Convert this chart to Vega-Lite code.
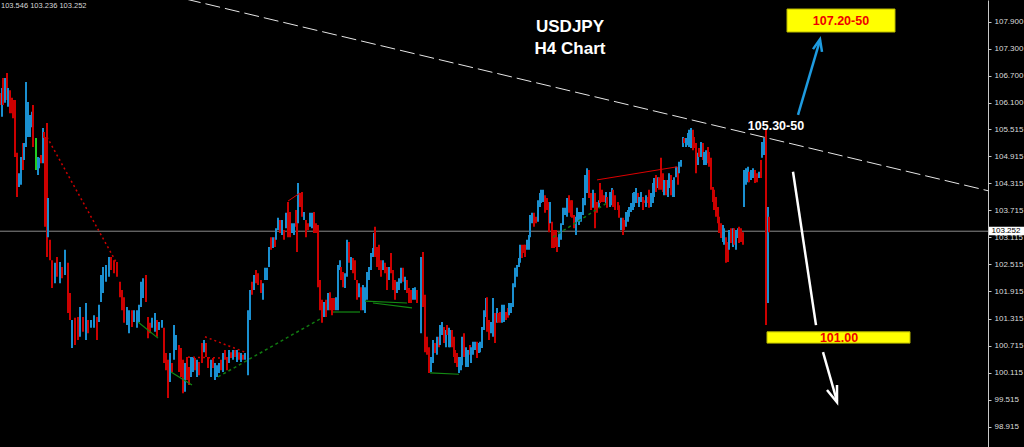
{
  "$schema": "https://vega.github.io/schema/vega-lite/v6.json",
  "width": 988,
  "height": 447,
  "autosize": {"type": "none"},
  "padding": {"left": 0, "right": 36, "top": 0, "bottom": 0},
  "background": "#000000",
  "config": {"view": {"stroke": null, "fill": "#000000"}, "axis": {"labelOverlap": false, "labelBound": false, "labelFlush": false}, "axisY": {"labelOverlap": false}},
  "datasets": {
    "bars": [
      {"i":0,"h":106.32,"l":106.05,"c":"d"},{"i":2,"h":106.43,"l":105.79,"c":"u"},{"i":3,"h":106.65,"l":106.05,"c":"d"},{"i":5,"h":106.65,"l":106.10,"c":"u"},{"i":7,"h":106.76,"l":106.16,"c":"d"},{"i":8,"h":106.43,"l":106.01,"c":"u"},{"i":10,"h":106.38,"l":105.87,"c":"d"},{"i":12,"h":106.21,"l":105.87,"c":"d"},{"i":13,"h":106.16,"l":105.76,"c":"d"},{"i":15,"h":106.16,"l":104.90,"c":"d"},{"i":17,"h":104.99,"l":104.01,"c":"d"},{"i":19,"h":104.54,"l":104.23,"c":"u"},{"i":21,"h":104.90,"l":104.28,"c":"u"},{"i":23,"h":105.21,"l":104.61,"c":"d"},{"i":24,"h":105.21,"l":104.83,"c":"u"},{"i":26,"h":106.56,"l":105.12,"c":"u"},{"i":28,"h":106.12,"l":105.34,"c":"u"},{"i":30,"h":105.83,"l":105.34,"c":"u"},{"i":32,"h":105.90,"l":105.56,"c":"u"},{"i":33,"h":106.05,"l":105.12,"c":"d"},{"i":36,"h":105.32,"l":104.61,"c":"g"},{"i":38,"h":104.90,"l":104.50,"c":"u"},{"i":39,"h":104.88,"l":104.65,"c":"u"},{"i":41,"h":104.94,"l":104.76,"c":"d"},{"i":43,"h":105.54,"l":104.76,"c":"u"},{"i":44,"h":105.45,"l":105.32,"c":"d"},{"i":45,"h":105.34,"l":103.35,"c":"d"},{"i":47,"h":105.65,"l":102.68,"c":"d"},{"i":48,"h":103.99,"l":103.12,"c":"u"},{"i":50,"h":103.06,"l":102.61,"c":"d"},
      {"i":52,"h":102.61,"l":101.99,"c":"d"},{"i":55,"h":102.55,"l":102.10,"c":"u"},{"i":57,"h":102.68,"l":102.24,"c":"d"},{"i":60,"h":102.57,"l":102.10,"c":"u"},{"i":62,"h":102.46,"l":102.21,"c":"d"},{"i":65,"h":102.84,"l":102.28,"c":"u"},{"i":68,"h":102.55,"l":101.44,"c":"d"},{"i":70,"h":101.88,"l":101.28,"c":"d"},{"i":72,"h":101.28,"l":100.66,"c":"u"},{"i":75,"h":101.33,"l":100.73,"c":"d"},{"i":78,"h":101.35,"l":100.84,"c":"d"},{"i":80,"h":101.57,"l":100.91,"c":"u"},{"i":83,"h":101.35,"l":101.02,"c":"d"},{"i":86,"h":101.66,"l":100.84,"c":"u"},{"i":88,"h":101.28,"l":100.99,"c":"d"},{"i":91,"h":101.28,"l":101.11,"c":"u"},{"i":94,"h":101.39,"l":101.11,"c":"u"},{"i":97,"h":101.35,"l":100.84,"c":"d"},{"i":99,"h":101.62,"l":101.24,"c":"u"},{"i":101,"h":102.28,"l":101.68,"c":"u"},{"i":103,"h":102.46,"l":101.88,"c":"u"},{"i":106,"h":102.50,"l":102.13,"c":"u"},{"i":109,"h":102.68,"l":102.24,"c":"u"},{"i":111,"h":102.68,"l":102.39,"c":"d"},{"i":114,"h":102.61,"l":102.32,"c":"d"},{"i":117,"h":102.57,"l":102.24,"c":"d"},{"i":120,"h":102.13,"l":101.79,"c":"d"},{"i":122,"h":101.95,"l":101.50,"c":"d"},{"i":124,"h":101.79,"l":101.22,"c":"d"},{"i":127,"h":101.57,"l":101.17,"c":"u"},{"i":129,"h":101.50,"l":100.99,"c":"u"},{"i":132,"h":101.50,"l":101.13,"c":"d"},{"i":134,"h":101.50,"l":101.24,"c":"u"},{"i":137,"h":101.50,"l":101.11,"c":"u"},{"i":139,"h":101.62,"l":101.24,"c":"u"},{"i":141,"h":102.13,"l":101.57,"c":"u"},{"i":143,"h":102.21,"l":101.77,"c":"u"},{"i":146,"h":102.28,"l":101.68,"c":"d"},{"i":148,"h":101.35,"l":100.88,"c":"d"},{"i":150,"h":101.22,"l":100.99,"c":"d"},{"i":152,"h":101.33,"l":101.11,"c":"u"},{"i":155,"h":101.44,"l":101.02,"c":"u"},{"i":157,"h":101.28,"l":100.91,"c":"d"},{"i":159,"h":101.24,"l":101.06,"c":"u"},{"i":162,"h":101.28,"l":101.11,"c":"u"},{"i":164,"h":101.11,"l":100.33,"c":"d"},{"i":166,"h":100.55,"l":100.17,"c":"d"},{"i":168,"h":100.40,"l":99.55,"c":"d"},{"i":170,"h":100.55,"l":99.91,"c":"u"},{"i":172,"h":100.33,"l":100.13,"c":"d"},{"i":174,"h":101.17,"l":100.40,"c":"u"},{"i":176,"h":100.95,"l":100.62,"c":"u"},{"i":179,"h":100.73,"l":100.13,"c":"d"},{"i":181,"h":100.66,"l":100.02,"c":"d"},{"i":183,"h":100.40,"l":99.66,"c":"d"},{"i":185,"h":100.33,"l":99.69,"c":"u"},{"i":187,"h":100.46,"l":99.95,"c":"d"},{"i":189,"h":100.24,"l":99.84,"c":"d"},{"i":191,"h":100.46,"l":100.02,"c":"u"},{"i":193,"h":100.46,"l":100.13,"c":"u"},{"i":195,"h":100.44,"l":100.17,"c":"d"},{"i":197,"h":100.40,"l":100.02,"c":"u"},{"i":199,"h":100.35,"l":100.06,"c":"d"},{"i":202,"h":100.77,"l":100.33,"c":"d"},{"i":204,"h":100.84,"l":100.57,"c":"u"},{"i":206,"h":100.77,"l":100.46,"c":"d"},{"i":208,"h":100.46,"l":100.22,"c":"d"},{"i":211,"h":100.40,"l":100.02,"c":"u"},{"i":213,"h":100.44,"l":100.22,"c":"d"},{"i":215,"h":100.33,"l":99.95,"c":"u"},{"i":217,"h":100.28,"l":100.02,"c":"u"},{"i":219,"h":100.33,"l":100.11,"c":"u"},{"i":221,"h":100.40,"l":100.17,"c":"d"},{"i":223,"h":100.55,"l":100.13,"c":"u"},{"i":225,"h":100.62,"l":100.40,"c":"d"},{"i":227,"h":100.46,"l":100.17,"c":"d"},{"i":229,"h":100.62,"l":100.33,"c":"u"},{"i":231,"h":100.57,"l":100.44,"c":"d"},{"i":233,"h":100.62,"l":100.40,"c":"u"},{"i":235,"h":100.62,"l":100.46,"c":"d"},{"i":237,"h":100.62,"l":100.35,"c":"u"},{"i":239,"h":100.57,"l":100.40,"c":"d"},{"i":241,"h":100.55,"l":100.35,"c":"u"},{"i":243,"h":100.51,"l":100.40,"c":"d"},{"i":245,"h":100.55,"l":100.40,"c":"u"},
      {"i":248,"h":101.50,"l":100.06,"c":"u"},{"i":250,"h":101.95,"l":101.28,"c":"u"},{"i":252,"h":102.13,"l":101.84,"c":"d"},{"i":254,"h":102.28,"l":101.95,"c":"u"},{"i":256,"h":102.39,"l":102.10,"c":"d"},{"i":258,"h":102.32,"l":102.06,"c":"d"},{"i":261,"h":102.17,"l":101.88,"c":"d"},{"i":263,"h":102.10,"l":101.73,"c":"u"},{"i":265,"h":102.44,"l":102.17,"c":"u"},{"i":267,"h":102.44,"l":102.17,"c":"u"},{"i":269,"h":102.90,"l":102.46,"c":"u"},{"i":271,"h":103.12,"l":102.84,"c":"d"},{"i":273,"h":103.12,"l":102.88,"c":"u"},{"i":275,"h":103.12,"l":102.90,"c":"d"},{"i":276,"h":103.32,"l":103.06,"c":"u"},{"i":278,"h":103.55,"l":103.28,"c":"u"},{"i":280,"h":103.50,"l":103.21,"c":"d"},{"i":282,"h":103.50,"l":103.17,"c":"u"},{"i":284,"h":103.28,"l":103.06,"c":"d"},{"i":286,"h":103.66,"l":103.32,"c":"u"},{"i":288,"h":103.90,"l":103.12,"c":"d"},{"i":290,"h":103.68,"l":103.12,"c":"d"},{"i":292,"h":103.43,"l":103.21,"c":"u"},{"i":294,"h":103.43,"l":103.17,"c":"u"},{"i":296,"h":103.72,"l":103.35,"c":"d"},{"i":297,"h":103.66,"l":102.79,"c":"d"},{"i":298,"h":104.32,"l":103.43,"c":"u"},{"i":300,"h":104.10,"l":103.79,"c":"d"},{"i":302,"h":104.12,"l":103.57,"c":"d"},{"i":304,"h":103.68,"l":103.50,"c":"u"},{"i":306,"h":103.50,"l":103.12,"c":"d"},{"i":308,"h":103.43,"l":103.28,"c":"d"},{"i":310,"h":103.66,"l":103.35,"c":"u"},{"i":312,"h":103.66,"l":103.32,"c":"u"},{"i":314,"h":103.68,"l":103.21,"c":"d"},{"i":316,"h":103.43,"l":103.21,"c":"d"},{"i":318,"h":103.39,"l":102.01,"c":"d"},{"i":320,"h":102.17,"l":101.50,"c":"d"},{"i":322,"h":101.73,"l":101.22,"c":"d"},{"i":324,"h":101.68,"l":101.35,"c":"u"},{"i":326,"h":101.73,"l":101.35,"c":"d"},{"i":328,"h":101.88,"l":101.50,"c":"u"},{"i":330,"h":101.90,"l":101.50,"c":"d"},{"i":332,"h":101.77,"l":101.39,"c":"d"},{"i":334,"h":101.77,"l":101.50,"c":"d"},{"i":336,"h":101.79,"l":101.50,"c":"u"},{"i":338,"h":102.50,"l":101.50,"c":"u"},{"i":340,"h":102.61,"l":102.39,"c":"u"},{"i":341,"h":102.46,"l":102.17,"c":"d"},{"i":343,"h":102.35,"l":102.01,"c":"d"},{"i":345,"h":102.32,"l":101.99,"c":"u"},{"i":347,"h":103.06,"l":102.24,"c":"u"},{"i":349,"h":103.01,"l":102.55,"c":"d"},{"i":351,"h":102.68,"l":102.39,"c":"u"},{"i":353,"h":102.66,"l":102.32,"c":"d"},{"i":355,"h":102.61,"l":102.17,"c":"d"},{"i":357,"h":102.17,"l":101.73,"c":"d"},{"i":359,"h":102.10,"l":101.79,"c":"u"},{"i":361,"h":102.01,"l":101.50,"c":"d"},{"i":363,"h":102.06,"l":101.50,"c":"u"},{"i":365,"h":102.01,"l":101.44,"c":"u"},{"i":367,"h":102.35,"l":101.73,"c":"u"},{"i":369,"h":102.46,"l":102.17,"c":"u"},{"i":371,"h":102.77,"l":102.39,"c":"u"},{"i":373,"h":102.88,"l":102.68,"c":"u"},{"i":374,"h":103.21,"l":102.77,"c":"u"},{"i":375,"h":103.35,"l":102.68,"c":"d"},{"i":377,"h":102.90,"l":102.46,"c":"d"},{"i":379,"h":102.95,"l":102.39,"c":"d"},{"i":381,"h":102.61,"l":102.24,"c":"d"},{"i":383,"h":102.61,"l":102.39,"c":"u"},{"i":385,"h":102.55,"l":102.32,"c":"d"},{"i":387,"h":102.46,"l":101.95,"c":"d"},{"i":389,"h":102.46,"l":102.17,"c":"u"},{"i":391,"h":102.77,"l":102.32,"c":"d"},{"i":393,"h":102.39,"l":101.95,"c":"d"},{"i":395,"h":102.17,"l":101.73,"c":"d"},{"i":397,"h":102.13,"l":101.88,"c":"u"},{"i":399,"h":102.21,"l":101.95,"c":"u"},{"i":401,"h":102.44,"l":102.10,"c":"u"},{"i":403,"h":102.44,"l":102.13,"c":"d"},{"i":405,"h":102.24,"l":101.95,"c":"u"},{"i":407,"h":102.17,"l":101.88,"c":"d"},{"i":409,"h":101.99,"l":101.66,"c":"d"},{"i":411,"h":101.95,"l":101.66,"c":"d"},{"i":413,"h":101.99,"l":101.73,"c":"u"},{"i":415,"h":102.01,"l":101.73,"c":"u"},{"i":417,"h":101.95,"l":101.66,"c":"d"},
      {"i":421,"h":102.68,"l":100.99,"c":"u"},{"i":423,"h":102.79,"l":101.57,"c":"d"},{"i":425,"h":101.84,"l":100.57,"c":"d"},{"i":427,"h":100.91,"l":100.51,"c":"d"},{"i":429,"h":100.68,"l":100.11,"c":"d"},{"i":431,"h":100.46,"l":100.13,"c":"u"},{"i":433,"h":100.84,"l":100.33,"c":"u"},{"i":435,"h":100.77,"l":100.55,"c":"d"},{"i":437,"h":100.91,"l":100.51,"c":"u"},{"i":439,"h":100.91,"l":100.68,"c":"d"},{"i":440,"h":101.17,"l":100.73,"c":"u"},{"i":442,"h":101.24,"l":100.95,"c":"u"},{"i":444,"h":101.13,"l":100.77,"c":"d"},{"i":446,"h":101.06,"l":100.68,"c":"u"},{"i":447,"h":101.17,"l":100.95,"c":"d"},{"i":449,"h":101.11,"l":100.68,"c":"u"},{"i":450,"h":101.06,"l":100.68,"c":"u"},{"i":452,"h":101.06,"l":100.68,"c":"d"},{"i":454,"h":100.91,"l":100.46,"c":"d"},{"i":455,"h":100.62,"l":100.33,"c":"d"},{"i":457,"h":100.55,"l":100.24,"c":"d"},{"i":459,"h":100.46,"l":100.11,"c":"u"},{"i":461,"h":100.46,"l":100.17,"c":"u"},{"i":462,"h":100.91,"l":100.28,"c":"u"},{"i":464,"h":100.99,"l":100.46,"c":"d"},{"i":466,"h":100.68,"l":100.24,"c":"u"},{"i":468,"h":100.62,"l":100.24,"c":"u"},{"i":470,"h":100.73,"l":100.51,"c":"d"},{"i":471,"h":100.68,"l":100.33,"c":"u"},{"i":473,"h":100.80,"l":100.51,"c":"u"},{"i":475,"h":100.80,"l":100.62,"c":"u"},{"i":477,"h":100.80,"l":100.44,"c":"d"},{"i":479,"h":100.77,"l":100.55,"c":"u"},{"i":480,"h":100.80,"l":100.57,"c":"u"},{"i":482,"h":101.13,"l":100.66,"c":"u"},{"i":484,"h":101.50,"l":101.06,"c":"u"},{"i":486,"h":101.77,"l":101.35,"c":"u"},{"i":487,"h":101.79,"l":101.02,"c":"d"},{"i":489,"h":101.28,"l":100.84,"c":"d"},{"i":491,"h":101.24,"l":100.99,"c":"u"},{"i":493,"h":101.77,"l":100.91,"c":"u"},{"i":495,"h":101.44,"l":100.77,"c":"d"},{"i":497,"h":101.55,"l":101.22,"c":"u"},{"i":498,"h":101.44,"l":101.22,"c":"d"},{"i":500,"h":101.46,"l":101.22,"c":"d"},{"i":502,"h":101.62,"l":101.22,"c":"u"},{"i":504,"h":101.62,"l":101.24,"c":"u"},{"i":506,"h":101.46,"l":101.28,"c":"d"},{"i":508,"h":101.55,"l":101.33,"c":"d"},{"i":509,"h":101.66,"l":101.39,"c":"u"},{"i":511,"h":101.66,"l":101.44,"c":"u"},{"i":513,"h":102.10,"l":101.57,"c":"u"},{"i":515,"h":102.44,"l":102.01,"c":"u"},{"i":517,"h":102.50,"l":102.24,"c":"u"},{"i":519,"h":102.66,"l":102.46,"c":"u"},{"i":520,"h":102.95,"l":102.55,"c":"u"},{"i":522,"h":102.95,"l":102.66,"c":"d"},{"i":524,"h":102.95,"l":102.77,"c":"d"},{"i":525,"h":102.95,"l":102.68,"c":"d"},{"i":527,"h":103.06,"l":102.84,"c":"u"},{"i":529,"h":103.17,"l":102.84,"c":"u"},{"i":530,"h":103.61,"l":103.12,"c":"u"},{"i":532,"h":103.66,"l":103.43,"c":"u"},{"i":534,"h":103.66,"l":103.35,"c":"d"},{"i":536,"h":103.57,"l":103.43,"c":"d"},{"i":538,"h":103.94,"l":103.46,"c":"u"},{"i":540,"h":104.10,"l":103.79,"c":"u"},{"i":541,"h":104.17,"l":103.88,"c":"u"},{"i":543,"h":104.17,"l":103.90,"c":"u"},{"i":545,"h":104.05,"l":103.66,"c":"d"},{"i":547,"h":103.99,"l":103.72,"c":"d"},{"i":549,"h":103.90,"l":103.23,"c":"d"},{"i":550,"h":103.90,"l":103.43,"c":"u"},{"i":552,"h":103.46,"l":102.88,"c":"d"},{"i":554,"h":103.28,"l":102.88,"c":"d"},{"i":556,"h":103.28,"l":102.90,"c":"d"},{"i":557,"h":103.12,"l":102.79,"c":"d"},{"i":559,"h":103.23,"l":102.90,"c":"u"},{"i":561,"h":103.43,"l":103.06,"c":"u"},{"i":563,"h":103.77,"l":103.39,"c":"u"},{"i":565,"h":103.77,"l":103.61,"c":"u"},{"i":567,"h":103.99,"l":103.57,"c":"u"},{"i":569,"h":104.05,"l":103.66,"c":"d"},{"i":571,"h":103.94,"l":103.57,"c":"d"},{"i":572,"h":103.94,"l":103.55,"c":"d"},{"i":574,"h":103.61,"l":103.32,"c":"d"},{"i":576,"h":103.57,"l":103.17,"c":"u"},{"i":577,"h":103.77,"l":103.46,"c":"u"},{"i":579,"h":103.68,"l":103.39,"c":"u"},{"i":581,"h":103.68,"l":103.46,"c":"u"},{"i":583,"h":103.99,"l":103.61,"c":"u"},{"i":585,"h":104.50,"l":103.83,"c":"u"},{"i":587,"h":104.65,"l":104.10,"c":"u"},{"i":589,"h":104.61,"l":103.99,"c":"d"},{"i":591,"h":104.10,"l":103.72,"c":"d"},{"i":593,"h":104.17,"l":103.77,"c":"u"},{"i":595,"h":104.10,"l":103.32,"c":"d"},{"i":597,"h":103.90,"l":103.66,"c":"d"},{"i":599,"h":103.94,"l":103.77,"c":"u"},
      {"i":600,"h":104.32,"l":103.88,"c":"d"},{"i":602,"h":104.17,"l":103.90,"c":"d"},{"i":604,"h":104.05,"l":103.90,"c":"d"},{"i":606,"h":104.12,"l":103.88,"c":"u"},{"i":607,"h":104.01,"l":103.77,"c":"d"},{"i":610,"h":104.12,"l":103.79,"c":"u"},{"i":612,"h":104.21,"l":103.83,"c":"u"},{"i":613,"h":104.17,"l":103.79,"c":"d"},{"i":615,"h":104.05,"l":103.72,"c":"d"},{"i":618,"h":103.90,"l":103.72,"c":"d"},{"i":619,"h":103.83,"l":103.55,"c":"d"},{"i":621,"h":103.55,"l":103.28,"c":"u"},{"i":623,"h":103.55,"l":103.17,"c":"d"},{"i":624,"h":103.50,"l":103.28,"c":"d"},{"i":626,"h":103.68,"l":103.35,"c":"u"},{"i":628,"h":103.72,"l":103.46,"c":"u"},{"i":629,"h":103.79,"l":103.57,"c":"u"},{"i":631,"h":103.88,"l":103.68,"c":"u"},{"i":633,"h":104.10,"l":103.72,"c":"u"},{"i":634,"h":104.12,"l":103.79,"c":"u"},{"i":636,"h":104.21,"l":103.88,"c":"u"},{"i":638,"h":104.10,"l":103.88,"c":"d"},{"i":639,"h":104.01,"l":103.79,"c":"u"},{"i":641,"h":104.12,"l":103.90,"c":"u"},{"i":643,"h":104.01,"l":103.72,"c":"d"},{"i":644,"h":103.94,"l":103.88,"c":"d"},{"i":646,"h":104.05,"l":103.79,"c":"u"},{"i":648,"h":104.01,"l":103.88,"c":"d"},{"i":649,"h":104.17,"l":103.77,"c":"d"},{"i":651,"h":104.10,"l":103.79,"c":"u"},{"i":653,"h":104.32,"l":103.88,"c":"u"},{"i":654,"h":104.43,"l":104.01,"c":"u"},{"i":656,"h":104.50,"l":104.12,"c":"d"},{"i":658,"h":104.45,"l":104.21,"c":"u"},{"i":659,"h":104.45,"l":104.17,"c":"d"},{"i":661,"h":104.88,"l":104.17,"c":"d"},{"i":663,"h":104.54,"l":104.12,"c":"d"},{"i":664,"h":104.39,"l":104.05,"c":"u"},{"i":666,"h":104.39,"l":104.05,"c":"d"},{"i":668,"h":104.39,"l":104.01,"c":"u"},{"i":669,"h":104.54,"l":104.21,"c":"u"},{"i":671,"h":104.50,"l":104.05,"c":"d"},{"i":673,"h":104.39,"l":104.01,"c":"u"},{"i":674,"h":104.45,"l":104.01,"c":"u"},{"i":676,"h":104.68,"l":104.45,"c":"u"},{"i":678,"h":104.68,"l":104.28,"c":"d"},{"i":679,"h":104.79,"l":104.54,"c":"u"},{"i":681,"h":104.83,"l":104.68,"c":"u"},{"i":683,"h":105.34,"l":105.12,"c":"u"},{"i":684,"h":105.32,"l":105.21,"c":"d"},{"i":686,"h":105.32,"l":105.12,"c":"u"},{"i":688,"h":105.43,"l":105.16,"c":"u"},{"i":689,"h":105.50,"l":105.12,"c":"u"},{"i":691,"h":105.54,"l":105.10,"c":"u"},{"i":693,"h":105.50,"l":105.05,"c":"d"},{"i":694,"h":105.34,"l":105.10,"c":"d"},{"i":696,"h":105.21,"l":104.54,"c":"d"},{"i":698,"h":104.99,"l":104.72,"c":"u"},{"i":699,"h":105.10,"l":104.90,"c":"d"},{"i":701,"h":105.23,"l":104.90,"c":"u"},{"i":703,"h":105.21,"l":104.83,"c":"d"},{"i":704,"h":105.01,"l":104.72,"c":"u"},{"i":706,"h":105.05,"l":104.72,"c":"u"},{"i":708,"h":105.12,"l":104.76,"c":"d"},{"i":709,"h":105.01,"l":104.68,"c":"d"},{"i":711,"h":104.88,"l":104.17,"c":"d"},{"i":713,"h":104.23,"l":103.90,"c":"d"},{"i":714,"h":104.17,"l":103.72,"c":"d"},{"i":716,"h":104.01,"l":103.57,"c":"d"},{"i":718,"h":103.79,"l":103.43,"c":"d"},{"i":719,"h":103.57,"l":103.21,"c":"d"},{"i":721,"h":103.43,"l":103.10,"c":"d"},{"i":723,"h":103.39,"l":103.01,"c":"u"},{"i":724,"h":103.32,"l":102.95,"c":"u"},{"i":726,"h":103.12,"l":102.55,"c":"d"},{"i":728,"h":103.01,"l":102.57,"c":"d"},{"i":729,"h":103.28,"l":102.84,"c":"u"},{"i":731,"h":103.32,"l":102.99,"c":"d"},{"i":733,"h":103.32,"l":102.90,"c":"u"},{"i":734,"h":103.32,"l":102.95,"c":"d"},{"i":736,"h":103.28,"l":102.84,"c":"u"},{"i":738,"h":103.32,"l":103.10,"c":"u"},{"i":739,"h":103.35,"l":102.99,"c":"d"},{"i":741,"h":103.32,"l":103.01,"c":"d"},{"i":743,"h":103.23,"l":102.95,"c":"d"},{"i":744,"h":104.61,"l":103.79,"c":"u"},{"i":746,"h":104.65,"l":104.28,"c":"u"},{"i":748,"h":104.68,"l":104.34,"c":"u"},{"i":749,"h":104.57,"l":104.34,"c":"d"},{"i":751,"h":104.61,"l":104.39,"c":"u"},{"i":753,"h":104.65,"l":104.43,"c":"u"},{"i":755,"h":104.61,"l":104.32,"c":"d"},{"i":757,"h":104.54,"l":104.34,"c":"d"},{"i":759,"h":104.57,"l":104.43,"c":"u"},{"i":761,"h":104.83,"l":104.43,"c":"d"},{"i":762,"h":105.23,"l":104.88,"c":"u"},{"i":764,"h":105.32,"l":104.94,"c":"u"},{"i":766,"h":105.50,"l":101.17,"c":"d"},{"i":768,"h":103.79,"l":101.66,"c":"u"},{"i":769,"h":103.57,"l":103.23,"c":"d"}
    ]
  },
  "encoding": {
    "x": {"type": "quantitative", "scale": {"domain": [0, 988], "nice": false, "zero": false}, "axis": null},
    "y": {"type": "quantitative", "scale": {"domain": [98.466, 108.38], "nice": false, "zero": false},
      "axis": {"orient": "right", "title": null, "grid": false,
        "values": [98.915, 99.515, 100.115, 100.715, 101.315, 101.915, 102.515, 103.115, 103.715, 104.315, 104.915, 105.515, 106.1, 106.7, 107.3, 107.9],
        "format": ".3f", "labelColor": "#dcdcdc", "labelFont": "Liberation Sans", "labelFontSize": 8,
        "labelOverlap": false, "labelBound": false, "labelFlush": false,
        "tickColor": "#c8c8c8", "tickSize": 3, "domainColor": "#c8c8c8", "labelPadding": 3}}
  },
  "layer": [
    {
      "data": {"values": [{"x": 186, "p": 108.40}, {"x": 988, "p": 104.15}]},
      "mark": {"type": "line", "color": "#e6e6e6", "strokeWidth": 1, "strokeDash": [15, 5], "clip": true},
      "encoding": {"x": {"field": "x", "type": "quantitative"}, "y": {"field": "p", "type": "quantitative"}}
    },
    {
      "data": {"values": [{"p": 103.252}]},
      "mark": {"type": "rule", "color": "#8a8a8a", "strokeWidth": 1},
      "encoding": {"x": null, "y": {"field": "p", "type": "quantitative"}}
    },
    {
      "data": {"name": "bars"},
      "mark": {"type": "rule", "strokeWidth": 2},
      "encoding": {
        "x": {"field": "i", "type": "quantitative"},
        "y": {"field": "h", "type": "quantitative"},
        "y2": {"field": "l"},
        "color": {"field": "c", "type": "nominal", "scale": {"domain": ["u", "d", "g"], "range": ["#1a8fd0", "#cc0000", "#22cc22"]}, "legend": null}
      }
    },
    {
      "data": {"values": [
        {"g": 1, "k": 1, "x": 47, "p": 105.34}, {"g": 1, "k": 2, "x": 116, "p": 102.57},
        {"g": 2, "k": 1, "x": 205, "p": 100.91}, {"g": 2, "k": 2, "x": 245, "p": 100.57},
        {"g": 3, "k": 1, "x": 188, "p": 100.46}, {"g": 3, "k": 2, "x": 220, "p": 100.44}
      ]},
      "mark": {"type": "line", "color": "#cc0000", "strokeWidth": 1.5, "strokeDash": [2, 3]},
      "encoding": {"x": {"field": "x", "type": "quantitative"}, "y": {"field": "p", "type": "quantitative"}, "detail": {"field": "g"}, "order": {"field": "k"}}
    },
    {
      "data": {"values": [
        {"g": 1, "k": 1, "x": 218, "p": 100.02}, {"g": 1, "k": 2, "x": 322, "p": 101.33},
        {"g": 2, "k": 1, "x": 553, "p": 103.12}, {"g": 2, "k": 2, "x": 607, "p": 103.88}
      ]},
      "mark": {"type": "line", "color": "#107a10", "strokeWidth": 1.5, "strokeDash": [3, 3]},
      "encoding": {"x": {"field": "x", "type": "quantitative"}, "y": {"field": "p", "type": "quantitative"}, "detail": {"field": "g"}, "order": {"field": "k"}}
    },
    {
      "data": {"values": [
        {"g": 1, "k": 1, "x": 171, "p": 100.13}, {"g": 1, "k": 2, "x": 192, "p": 99.84},
        {"g": 2, "k": 1, "x": 138, "p": 101.24}, {"g": 2, "k": 2, "x": 158, "p": 100.88},
        {"g": 3, "k": 1, "x": 333, "p": 101.46}, {"g": 3, "k": 2, "x": 360, "p": 101.46},
        {"g": 4, "k": 1, "x": 365, "p": 101.70}, {"g": 4, "k": 2, "x": 407, "p": 101.66},
        {"g": 5, "k": 1, "x": 373, "p": 101.66}, {"g": 5, "k": 2, "x": 412, "p": 101.55},
        {"g": 6, "k": 1, "x": 430, "p": 100.11}, {"g": 6, "k": 2, "x": 459, "p": 100.08}
      ]},
      "mark": {"type": "line", "color": "#138a13", "strokeWidth": 1.2},
      "encoding": {"x": {"field": "x", "type": "quantitative"}, "y": {"field": "p", "type": "quantitative"}, "detail": {"field": "g"}, "order": {"field": "k"}}
    },
    {
      "data": {"values": [
        {"g": 1, "k": 1, "x": 288, "p": 103.92}, {"g": 1, "k": 2, "x": 300, "p": 104.10},
        {"g": 2, "k": 1, "x": 597, "p": 104.39}, {"g": 2, "k": 2, "x": 677, "p": 104.68}
      ]},
      "mark": {"type": "line", "color": "#dd0000", "strokeWidth": 1},
      "encoding": {"x": {"field": "x", "type": "quantitative"}, "y": {"field": "p", "type": "quantitative"}, "detail": {"field": "g"}, "order": {"field": "k"}}
    },
    {
      "data": {"values": [
        {"g": 1, "k": 1, "x": 798, "p": 105.83}, {"g": 1, "k": 2, "x": 820, "p": 107.49},
        {"g": 2, "k": 1, "x": 813, "p": 107.29}, {"g": 2, "k": 2, "x": 820, "p": 107.51}, {"g": 2, "k": 3, "x": 822, "p": 107.23}
      ]},
      "mark": {"type": "line", "color": "#1e9be0", "strokeWidth": 2.5},
      "encoding": {"x": {"field": "x", "type": "quantitative"}, "y": {"field": "p", "type": "quantitative"}, "detail": {"field": "g"}, "order": {"field": "k"}}
    },
    {
      "data": {"values": [
        {"g": 1, "k": 1, "x": 793, "p": 104.57}, {"g": 1, "k": 2, "x": 816, "p": 101.17},
        {"g": 2, "k": 1, "x": 823, "p": 100.57}, {"g": 2, "k": 2, "x": 837, "p": 99.48},
        {"g": 3, "k": 1, "x": 827, "p": 99.73}, {"g": 3, "k": 2, "x": 837, "p": 99.46}, {"g": 3, "k": 3, "x": 837, "p": 99.84}
      ]},
      "mark": {"type": "line", "color": "#ffffff", "strokeWidth": 2.5},
      "encoding": {"x": {"field": "x", "type": "quantitative"}, "y": {"field": "p", "type": "quantitative"}, "detail": {"field": "g"}, "order": {"field": "k"}}
    },
    {
      "data": {"values": [
        {"x": 787, "x2": 895, "p": 108.18, "p2": 107.67},
        {"x": 767, "x2": 910, "p": 101.02, "p2": 100.77}
      ]},
      "mark": {"type": "rect", "color": "#ffff00", "stroke": "#b8b800", "strokeWidth": 1},
      "encoding": {"x": {"field": "x", "type": "quantitative"}, "x2": {"field": "x2"}, "y": {"field": "p", "type": "quantitative"}, "y2": {"field": "p2"}}
    },
    {
      "data": {"values": [{"x": 989, "x2": 1024, "p": 103.35, "p2": 103.16}]},
      "mark": {"type": "rect", "color": "#ffffff", "clip": false},
      "encoding": {"x": {"field": "x", "type": "quantitative"}, "x2": {"field": "x2"}, "y": {"field": "p", "type": "quantitative"}, "y2": {"field": "p2"}}
    },
    {
      "data": {"values": [{"x": 1006, "p": 103.255, "t": "103.252"}]},
      "mark": {"type": "text", "color": "#000000", "font": "Liberation Sans", "fontSize": 8, "align": "center", "baseline": "middle", "clip": false},
      "encoding": {"x": {"field": "x", "type": "quantitative"}, "y": {"field": "p", "type": "quantitative"}, "text": {"field": "t"}}
    },
    {
      "data": {"values": [
        {"x": 841, "p": 107.91, "t": "107.20-50"},
        {"x": 839, "p": 100.885, "t": "101.00"}
      ]},
      "mark": {"type": "text", "color": "#ee0000", "font": "Liberation Sans", "fontSize": 12.5, "fontWeight": "bold", "align": "center", "baseline": "middle"},
      "encoding": {"x": {"field": "x", "type": "quantitative"}, "y": {"field": "p", "type": "quantitative"}, "text": {"field": "t"}}
    },
    {
      "data": {"values": [
        {"x": 776, "p": 105.59, "t": "105.30-50", "s": 12.5},
        {"x": 570, "p": 107.78, "t": "USDJPY", "s": 17},
        {"x": 570, "p": 107.29, "t": "H4 Chart", "s": 17}
      ]},
      "mark": {"type": "text", "color": "#ffffff", "font": "Liberation Sans", "fontWeight": "bold", "align": "center", "baseline": "middle"},
      "encoding": {"x": {"field": "x", "type": "quantitative"}, "y": {"field": "p", "type": "quantitative"}, "text": {"field": "t"}, "size": {"field": "s", "type": "quantitative", "scale": null}}
    },
    {
      "data": {"values": [{"x": 1, "p": 108.25, "t": "103.546 103.236 103.252"}]},
      "mark": {"type": "text", "color": "#d8d8d8", "font": "Liberation Sans", "fontSize": 7.5, "align": "left", "baseline": "middle"},
      "encoding": {"x": {"field": "x", "type": "quantitative"}, "y": {"field": "p", "type": "quantitative"}, "text": {"field": "t"}}
    }
  ]
}
